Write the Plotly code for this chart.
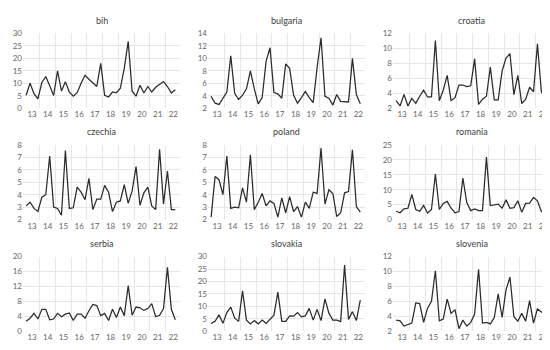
import plotly.graph_objects as go

# quarterly observations, first quarter of 2013 onwards (39 points)
years = ["13", "14", "15", "16", "17", "18", "19", "20", "21", "22"]

bih = [5.2, 10.0, 5.8, 3.7, 10.3, 12.7, 9.0, 5.1, 15.0, 6.9, 10.6, 6.5, 4.8, 6.2, 10.0, 13.2,
       11.6, 10.3, 8.7, 18.0, 5.2, 4.5, 6.5, 6.2, 8.0, 16.0, 26.8, 6.8, 4.8, 9.2, 6.1, 8.7,
       6.5, 8.4, 9.7, 10.7, 8.7, 6.1, 7.4]
bulgaria = [3.9, 2.8, 2.6, 3.6, 4.6, 10.4, 4.4, 3.4, 4.1, 5.1, 8.0, 5.1, 2.7, 3.7, 9.5, 11.7,
            4.5, 4.3, 3.6, 9.1, 8.4, 4.1, 2.8, 3.7, 4.7, 3.7, 2.9, 8.5, 13.3, 3.9, 3.6, 2.5,
            4.2, 3.1, 3.1, 3.0, 10.0, 4.2, 2.7]
croatia = [3.0, 2.3, 3.85, 2.3, 3.3, 2.65, 3.6, 4.4, 3.5, 3.5, 11.05, 3.0, 4.4, 6.4, 3.0, 3.4,
           5.1, 5.1, 4.9, 5.0, 8.6, 2.5, 3.2, 3.6, 7.5, 3.1, 3.1, 7.0, 8.7, 9.3, 3.8, 6.4,
           2.6, 3.2, 4.8, 4.2, 10.6, 4.2, 3.4]
czechia = [3.1, 3.4, 2.9, 2.65, 3.8, 4.0, 7.1, 3.0, 2.9, 2.35, 7.55, 2.9, 2.95, 4.6, 4.2, 3.6,
           5.3, 2.8, 3.65, 3.65, 4.75, 4.2, 2.65, 3.4, 3.5, 4.8, 3.3, 4.3, 6.25, 3.15, 4.15, 4.6,
           3.1, 2.8, 7.65, 3.25, 5.9, 2.8, 2.8]
poland = [2.2, 5.45, 5.2, 4.0, 7.1, 2.9, 3.0, 2.95, 4.55, 3.4, 7.2, 2.8, 3.4, 4.1, 3.1, 3.5,
          3.3, 2.2, 3.75, 2.55, 3.85, 2.65, 3.05, 2.2, 3.4, 2.9, 4.2, 4.1, 7.75, 3.25, 4.4, 4.1,
          2.25, 2.55, 4.15, 4.25, 7.6, 3.05, 2.6]
romania = [2.8, 2.3, 3.6, 3.8, 8.4, 3.4, 2.8, 4.7, 2.2, 3.4, 15.2, 3.4, 5.4, 6.1, 3.8, 2.3,
           2.7, 13.9, 5.7, 3.0, 3.6, 3.0, 3.0, 20.9, 4.7, 5.0, 5.2, 3.8, 6.6, 3.8, 4.0, 6.3,
           2.5, 5.4, 5.5, 7.4, 6.3, 2.7, 2.3]
serbia = [2.7, 3.5, 4.8, 3.3, 5.9, 5.9, 3.1, 3.3, 4.8, 3.9, 4.6, 4.9, 2.9, 4.6, 4.6, 3.5,
          5.5, 7.2, 6.9, 4.2, 4.8, 2.9, 5.9, 3.7, 6.5, 4.2, 12.2, 4.3, 6.5, 6.3, 5.6, 6.1,
          7.4, 3.9, 4.3, 6.1, 17.1, 5.9, 3.1]
slovakia = [3.2, 4.0, 6.6, 3.2, 7.5, 9.7, 5.3, 4.0, 16.2, 4.5, 3.0, 4.3, 3.0, 4.5, 3.2, 4.9,
            6.5, 15.7, 4.0, 4.0, 6.2, 6.1, 7.5, 5.8, 6.2, 9.2, 4.5, 8.8, 4.3, 13.0, 7.3, 4.5,
            4.5, 3.9, 26.6, 4.8, 7.9, 4.3, 12.5]
slovenia = [3.5, 3.4, 2.7, 2.85, 3.1, 5.8, 5.7, 3.2, 5.1, 6.0, 10.1, 3.4, 3.65, 6.3, 4.4, 4.9,
            2.35, 3.5, 2.7, 3.2, 4.3, 10.3, 3.1, 3.2, 3.0, 3.85, 7.0, 3.85, 7.55, 9.25, 3.95, 3.35,
            4.4, 3.35, 6.1, 3.1, 5.0, 4.6, 4.3]

panels = [
    ("bih", bih, 0, 30, 5),
    ("bulgaria", bulgaria, 2, 14, 2),
    ("croatia", croatia, 2, 12, 2),
    ("czechia", czechia, 2, 8, 1),
    ("poland", poland, 2, 8, 1),
    ("romania", romania, 0, 25, 5),
    ("serbia", serbia, 0, 20, 4),
    ("slovakia", slovakia, 0, 30, 5),
    ("slovenia", slovenia, 2, 12, 2),
]

W, H = 550, 350
col_px = [(15, 172), (200, 357), (385, 542)]
row_px = [(21, 98), (135.7, 212.7), (250.7, 327.7)]
title_px = [8, 122, 237]

GRID = "#e6e6e6"
TXT = "#666666"
FONT = "Lato, 'Open Sans', sans-serif"

fig = go.Figure()
layout = dict(
    width=W, height=H, margin=dict(l=0, r=0, t=0, b=0),
    paper_bgcolor="white", plot_bgcolor="white", showlegend=False,
    font=dict(family=FONT, size=8, color=TXT),
    annotations=[],
)

tickpos = [1.5 + 4 * k for k in range(len(years))]
gridpos = [3.5 + 4 * k for k in range(len(years) - 1)]

for i, (name, vals, ymin, ymax, dt) in enumerate(panels):
    r, c = divmod(i, 3)
    n = i + 1
    xa = "x" if n == 1 else f"x{n}"
    ya = "y" if n == 1 else f"y{n}"
    fig.add_trace(go.Scatter(
        x=list(range(len(vals))), y=vals, mode="lines",
        line=dict(color="#2b2b2b", width=1.25),
        xaxis=xa, yaxis=ya, hoverinfo="skip",
    ))
    x0, x1 = col_px[c]
    yt, yb = row_px[r]
    layout["xaxis" if n == 1 else f"xaxis{n}"] = dict(
        domain=[x0 / W, x1 / W], anchor=ya, range=[-0.8, 39.2],
        tickmode="array", tickvals=tickpos, ticktext=years,
        showgrid=False, zeroline=False, showline=False, ticks="",
        tickfont=dict(size=8, color=TXT),
        minor=dict(tickmode="array", tickvals=gridpos, showgrid=True,
                   gridcolor=GRID, gridwidth=1, ticks=""),
        fixedrange=True,
    )
    layout["yaxis" if n == 1 else f"yaxis{n}"] = dict(
        domain=[1 - yb / H, 1 - yt / H], anchor=xa,
        range=[ymin - 1e-6, ymax + 1e-6], tickmode="linear", tick0=ymin, dtick=dt,
        showgrid=True, gridcolor=GRID, gridwidth=1, zeroline=False, showline=False,
        ticks="", tickfont=dict(size=8, color=TXT), fixedrange=True,
    )
    layout["annotations"].append(dict(
        text=name, x=(x0 + x1) / 2 / W, y=1 - title_px[r] / H,
        xref="paper", yref="paper", xanchor="center", yanchor="middle",
        showarrow=False, font=dict(family=FONT, size=9, color="#404040"),
    ))

fig.update_layout(**layout)
fig.write_html("out.html")
